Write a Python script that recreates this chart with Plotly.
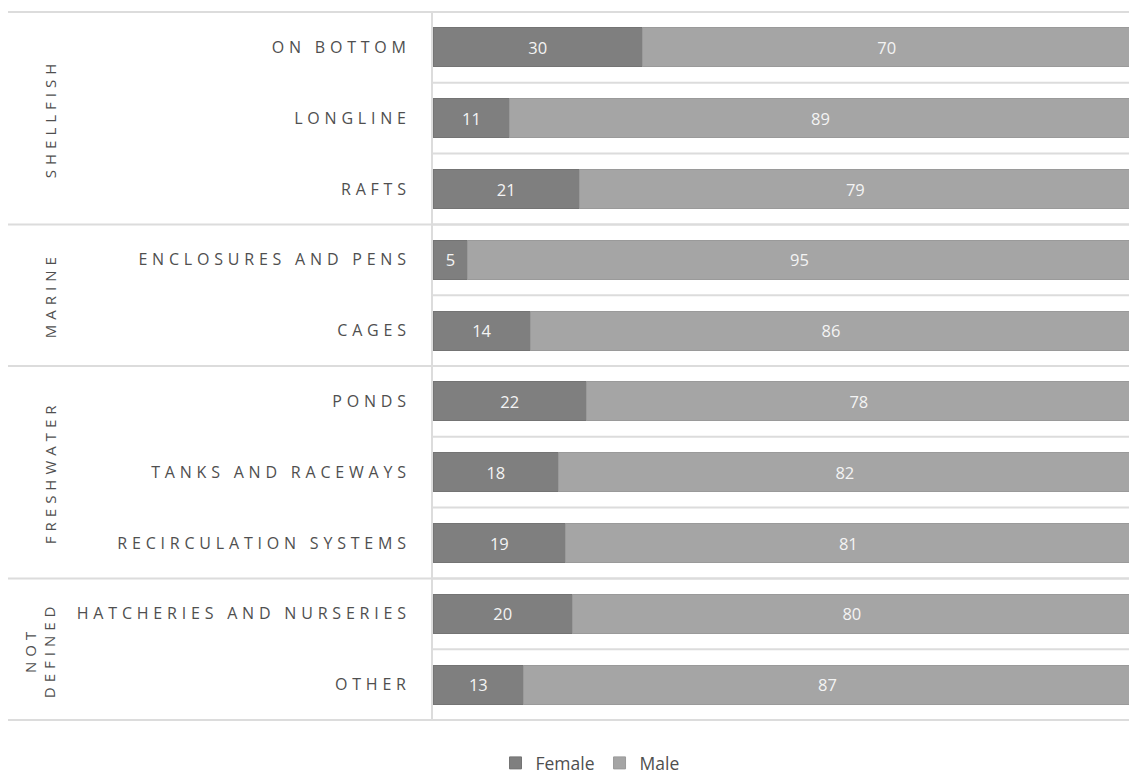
import plotly.graph_objects as go

categories = ["ON BOTTOM", "LONGLINE", "RAFTS", "ENCLOSURES AND PENS", "CAGES",
              "PONDS", "TANKS AND RACEWAYS", "RECIRCULATION SYSTEMS",
              "HATCHERIES AND NURSERIES", "OTHER"]
female = [30, 11, 21, 5, 14, 22, 18, 19, 20, 13]
male = [70, 89, 79, 95, 86, 78, 82, 81, 80, 87]
groups = ["SHELLFISH", "MARINE", "FRESHWATER", "NOT<br>DEFINED"]
group_sizes = [3, 2, 3, 2]

W, H = 1129, 778
L, T, B = 433, 11, 57
plot_w = W - L
plot_h = H - T - B
TXT = "#4f4f4f"
FONT = "Open Sans, Liberation Sans, sans-serif"

def spaced(s, ls):
    return f'<span style="letter-spacing:{ls}px">{s}</span>'

fig = go.Figure()
fig.add_trace(go.Bar(y=categories, x=female, orientation="h", name="Female",
                     marker=dict(color="#7f7f7f", line=dict(color="#747474", width=1)),
                     texttemplate="%{x}", textposition="inside", insidetextanchor="middle",
                     textfont=dict(color="#f4f4f4", size=16.5, family=FONT)))
fig.add_trace(go.Bar(y=categories, x=male, orientation="h", name="Male",
                     marker=dict(color="#a5a5a5", line=dict(color="#9a9a9a", width=1)),
                     texttemplate="%{x}", textposition="inside", insidetextanchor="middle",
                     textfont=dict(color="#f4f4f4", size=16.5, family=FONT)))

shapes = []
n = len(categories)
for i in range(n - 1):
    shapes.append(dict(type="line", xref="paper", yref="y", x0=0, x1=1,
                       y0=i + 0.5, y1=i + 0.5, line=dict(color="#dcdcdc", width=2)))
left_paper = -(L - 8) / plot_w
bounds = [-0.5]
acc = -0.5
for g in group_sizes:
    acc += g
    bounds.append(acc)
for b in bounds:
    shapes.append(dict(type="line", xref="paper", yref="y", x0=left_paper, x1=1,
                       y0=b, y1=b, line=dict(color="#dcdcdc", width=2)))

annotations = []
start = 0
for g, sz in zip(groups, group_sizes):
    center = start + (sz - 1) / 2
    xpix = 50 if "<br>" not in g else 40
    annotations.append(dict(text=spaced(g, 5), xref="paper", yref="y",
                            x=-(L - xpix) / plot_w,
                            y=center, showarrow=False, textangle=-90,
                            xanchor="center", yanchor="middle",
                            font=dict(size=15, color=TXT, family=FONT)))
    start += sz

fig.update_layout(
    width=W, height=H,
    margin=dict(l=L, r=0, t=T, b=B, pad=0, autoexpand=False),
    paper_bgcolor="white", plot_bgcolor="white",
    barmode="stack", bargap=0.45,
    showlegend=True,
    legend=dict(orientation="h", x=(590 - L) / plot_w, xanchor="center",
                y=-(763 - (T + plot_h)) / plot_h, yanchor="middle",
                font=dict(size=17.5, color=TXT, family=FONT), traceorder="normal",
                itemwidth=30),
    xaxis=dict(range=[0, 99.7], showgrid=False, showticklabels=False, zeroline=False,
               showline=False, fixedrange=True),
    yaxis=dict(categoryorder="array", categoryarray=categories, autorange="reversed",
               showgrid=False, showline=True, linecolor="#dcdcdc", linewidth=2,
               ticks="", ticklabelstandoff=17,
               tickmode="array", tickvals=categories,
               ticktext=[spaced(c, 4.8) for c in categories],
               tickfont=dict(size=16, color=TXT, family=FONT)),
    shapes=shapes, annotations=annotations,
    font=dict(family=FONT),
)

fig.write_html("out.html")
